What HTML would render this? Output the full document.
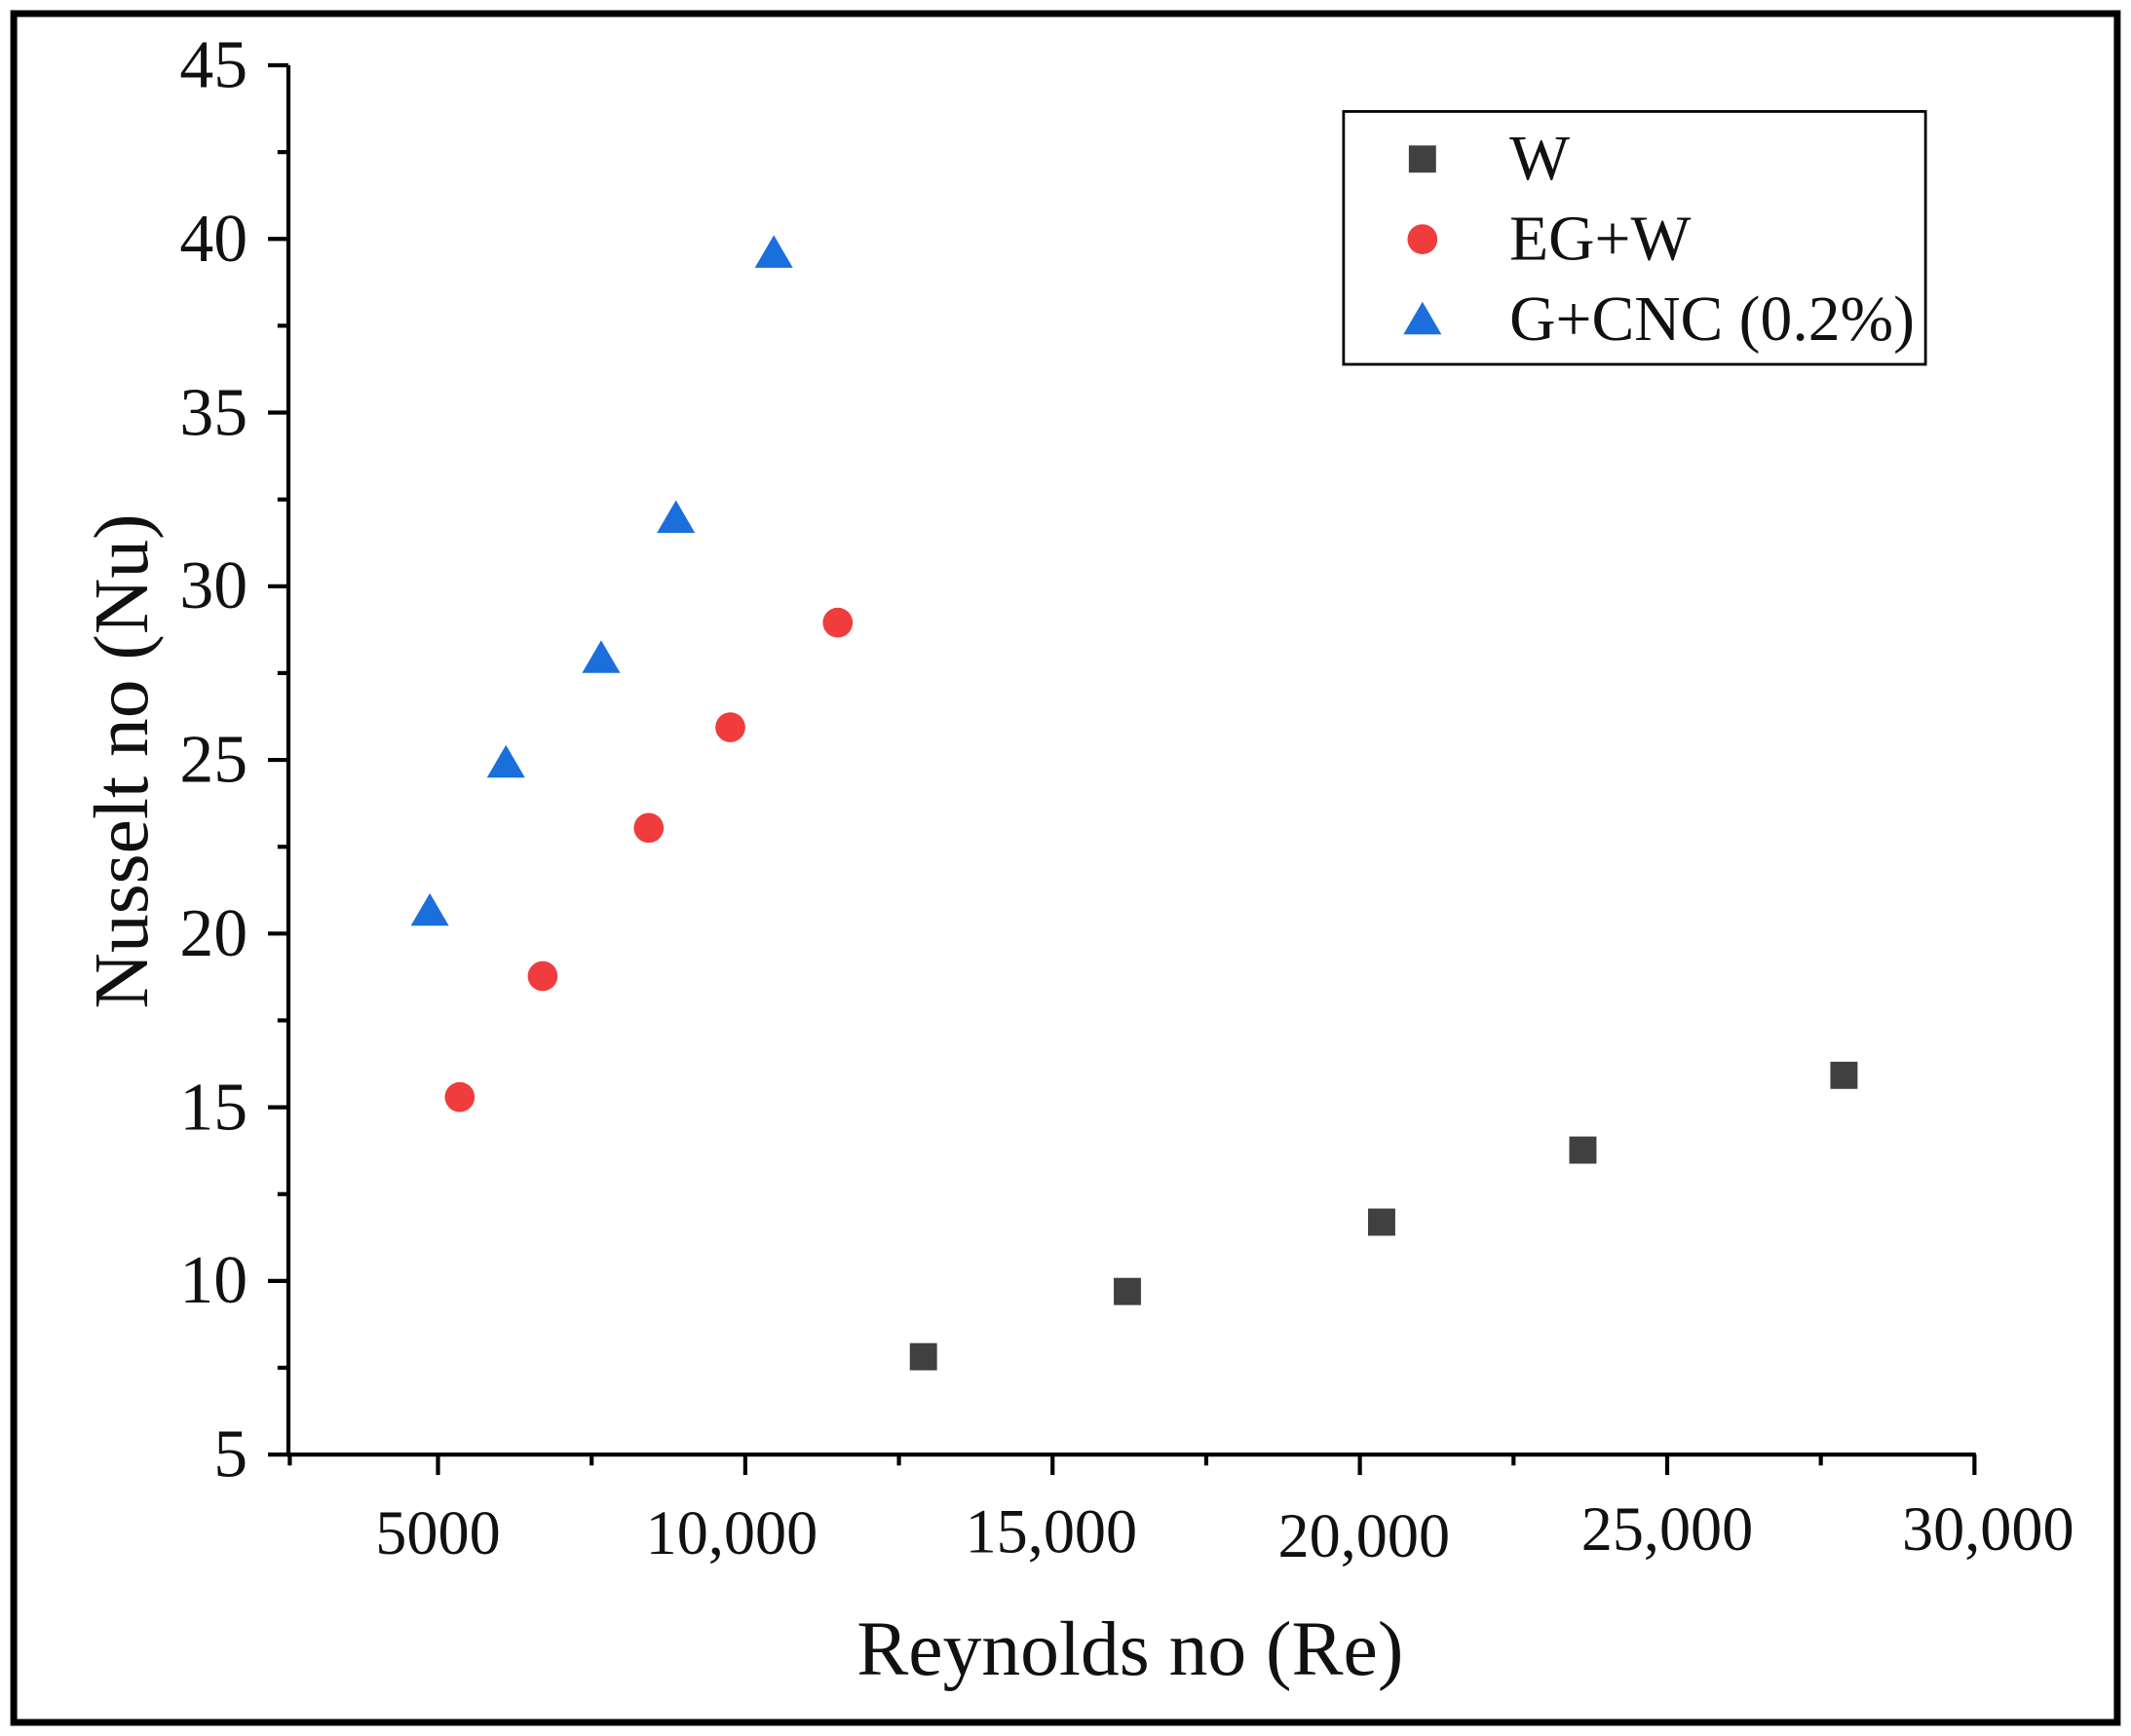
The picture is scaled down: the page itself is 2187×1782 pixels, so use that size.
<!DOCTYPE html>
<html><head><meta charset="utf-8"><style>
html,body{margin:0;padding:0;background:#fff}
svg{display:block}
text{font-family:"Liberation Serif",serif;fill:#111}
</style></head><body>
<svg width="2187" height="1782" viewBox="0 0 1567 1277" xmlns="http://www.w3.org/2000/svg">
<rect x="0" y="0" width="1567" height="1277" fill="#fff"/>
<rect x="10" y="10" width="1547" height="1257" fill="none" stroke="#000" stroke-width="5"/>
<line x1="212" y1="48" x2="212" y2="1071" stroke="#000" stroke-width="3"/>
<line x1="211" y1="1070" x2="1453" y2="1070" stroke="#000" stroke-width="3"/>
<g stroke="#000" stroke-width="3">
<line x1="197" y1="48" x2="212" y2="48"/><line x1="197" y1="175.75" x2="212" y2="175.75"/>
<line x1="197" y1="303.5" x2="212" y2="303.5"/><line x1="197" y1="431.25" x2="212" y2="431.25"/>
<line x1="197" y1="559" x2="212" y2="559"/><line x1="197" y1="686.75" x2="212" y2="686.75"/>
<line x1="197" y1="814.5" x2="212" y2="814.5"/><line x1="197" y1="942.25" x2="212" y2="942.25"/>
<line x1="197" y1="1070" x2="212" y2="1070"/>
<line x1="204" y1="111.9" x2="212" y2="111.9"/><line x1="204" y1="239.6" x2="212" y2="239.6"/>
<line x1="204" y1="367.4" x2="212" y2="367.4"/><line x1="204" y1="495.1" x2="212" y2="495.1"/>
<line x1="204" y1="622.9" x2="212" y2="622.9"/><line x1="204" y1="750.6" x2="212" y2="750.6"/>
<line x1="204" y1="878.4" x2="212" y2="878.4"/><line x1="204" y1="1006.1" x2="212" y2="1006.1"/>
<line x1="322" y1="1070" x2="322" y2="1085"/><line x1="548" y1="1070" x2="548" y2="1085"/>
<line x1="774" y1="1070" x2="774" y2="1085"/><line x1="1000" y1="1070" x2="1000" y2="1085"/>
<line x1="1226" y1="1070" x2="1226" y2="1085"/><line x1="1452" y1="1070" x2="1452" y2="1085"/>
<line x1="213" y1="1070" x2="213" y2="1078"/><line x1="435" y1="1070" x2="435" y2="1078"/>
<line x1="661" y1="1070" x2="661" y2="1078"/><line x1="887" y1="1070" x2="887" y2="1078"/>
<line x1="1113" y1="1070" x2="1113" y2="1078"/><line x1="1339" y1="1070" x2="1339" y2="1078"/>
</g>
<g font-size="50" text-anchor="end">
<text x="182" y="64">45</text><text x="182" y="192">40</text><text x="182" y="320">35</text>
<text x="182" y="447">30</text><text x="182" y="575">25</text><text x="182" y="703">20</text>
<text x="182" y="831">15</text><text x="182" y="958">10</text><text x="182" y="1086">5</text>
</g>
<g font-size="46" text-anchor="middle">
<text x="322" y="1143">5000</text><text x="538" y="1143">10,000</text><text x="773" y="1142">15,000</text>
<text x="1003" y="1145">20,000</text><text x="1226" y="1140">25,000</text><text x="1462" y="1140">30,000</text>
</g>
<text x="831" y="1232" font-size="57" text-anchor="middle">Reynolds no (Re)</text>
<text transform="translate(108,560) rotate(-90)" font-size="57" text-anchor="middle">Nusselt no (Nu)</text>
<g fill="#404040">
<rect x="669" y="988" width="20" height="20"/><rect x="819" y="940" width="20" height="20"/>
<rect x="1006" y="889" width="20" height="20"/><rect x="1154" y="836" width="20" height="20"/>
<rect x="1346" y="781" width="20" height="20"/>
</g>
<g fill="#f03c3c">
<circle cx="338" cy="807" r="11"/><circle cx="399" cy="718" r="11"/><circle cx="477" cy="609" r="11"/>
<circle cx="537" cy="535" r="11"/><circle cx="616" cy="458" r="11"/>
</g>
<g fill="#1a6fdc">
<polygon points="316,657 302,681 330,681"/><polygon points="372,548 358,572 386,572"/>
<polygon points="442,471 428,495 456,495"/><polygon points="497,368 483,392 511,392"/>
<polygon points="569,173 555,197 583,197"/>
</g>
<rect x="988" y="82" width="428" height="186" fill="#fff" stroke="#000" stroke-width="2"/>
<rect x="1036" y="107" width="20" height="20" fill="#404040"/>
<circle cx="1046" cy="176" r="11" fill="#f03c3c"/>
<polygon points="1046,222 1032,246 1060,246" fill="#1a6fdc"/>
<g font-size="47">
<text x="1110" y="132">W</text><text x="1110" y="191">EG+W</text><text x="1110" y="250">G+CNC (0.2%)</text>
</g>
</svg>
</body></html>
